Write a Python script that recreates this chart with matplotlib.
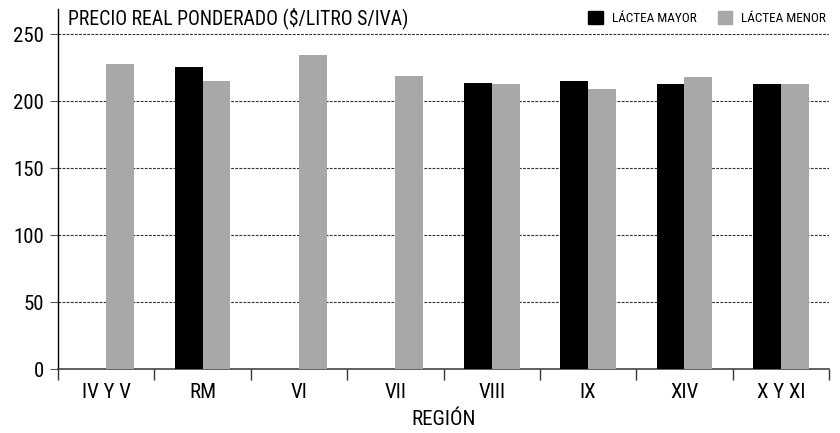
import numpy as np
import matplotlib
matplotlib.use("Agg")
import matplotlib.pyplot as plt
from matplotlib.patches import Patch

regions = ["IV Y V", "RM", "VI", "VII", "VIII", "IX", "XIV", "X Y XI"]
lactea_mayor = [np.nan, 225.5, np.nan, np.nan, 213.5, 215.0, 212.5, 212.5]
lactea_menor = [227.5, 215.0, 234.5, 218.5, 212.5, 209.0, 218.0, 212.5]
y_ticks = [0, 50, 100, 150, 200, 250]

plt.rcParams["font.family"] = ["Roboto Condensed", "DejaVu Sans"]

fig = plt.figure(figsize=(8.4, 4.33), dpi=100)
ax = fig.add_axes([0.069, 0.1478, 0.918, 0.831])

x = np.arange(len(regions))
w = 0.29
ax.bar(x - w, lactea_mayor, width=w, align="edge", color="#000000", zorder=3)
ax.bar(x, lactea_menor, width=w, align="edge", color="#a7a8aa", zorder=3)

ax.set_xlim(-0.5, len(regions) - 0.5)
ax.set_ylim(0, 268.7)

ax.set_yticks(y_ticks)
ax.tick_params(axis="y", length=6, width=0.8, color="#555555", labelsize=15, pad=4)
for v in y_ticks[1:]:
    ax.axhline(v, color="#333333", lw=0.8, ls=(0, (2.5, 1.2)), zorder=1)

ax.set_xticks(x)
ax.set_xticklabels(regions)
ax.tick_params(axis="x", which="major", length=0, labelsize=15, pad=10)
ax.set_xticks(np.arange(-0.5, len(regions)), minor=True)
ax.tick_params(axis="x", which="minor", length=8, width=1.0, color="#333333")

for s in ["top", "right"]:
    ax.spines[s].set_visible(False)
ax.spines["left"].set_color("#000000")
ax.spines["left"].set_linewidth(1.0)
ax.spines["bottom"].set_color("#444444")
ax.spines["bottom"].set_linewidth(1.2)

ax.set_xlabel("REGIÓN", fontsize=15, labelpad=6)

fig.text(0.081, 0.958, "PRECIO REAL PONDERADO ($/LITRO S/IVA)", fontsize=14.2,
         ha="left", va="center")

handles = [Patch(color="#000000", label="LÁCTEA MAYOR"),
           Patch(color="#a7a8aa", label="LÁCTEA MENOR")]
fig.legend(handles=handles, loc="center right", bbox_to_anchor=(0.99, 0.958),
           ncol=2, frameon=False, fontsize=9.5, handlelength=1.1, handleheight=1.1,
           handletextpad=0.7, columnspacing=1.6, borderaxespad=0)

fig.savefig("out.png", dpi=100)
